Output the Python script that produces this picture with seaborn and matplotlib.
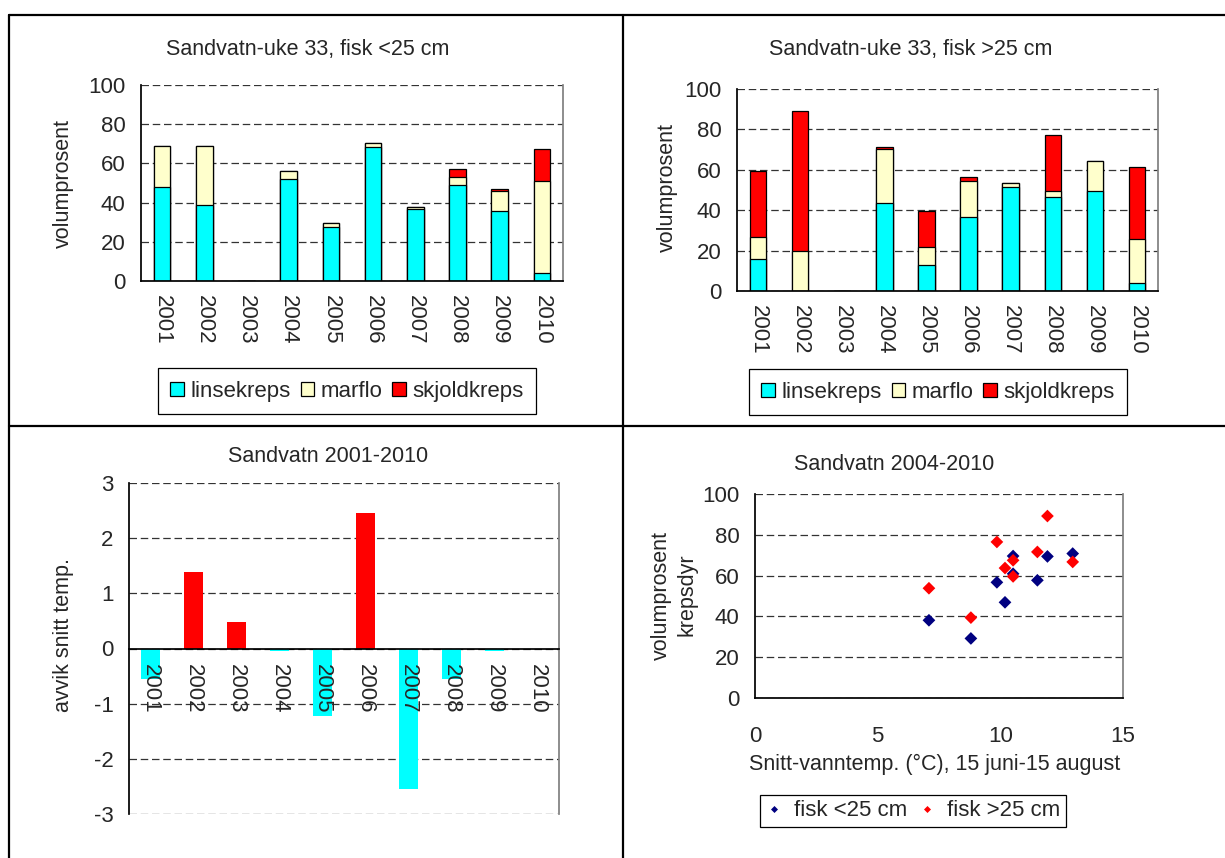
import numpy as np
import matplotlib
matplotlib.use("Agg")
import matplotlib.pyplot as plt
from matplotlib.lines import Line2D
import seaborn as sns
import pandas as pd

W, H = 1225, 858

YEARS = [str(y) for y in range(2001, 2011)]

# fisk <25 cm, volumprosent
small_linse = [48, 39, 0, 52, 27.4, 68.2, 36.6, 48.8, 35.5, 4.1]
small_marflo = [21, 30, 0, 4, 2.2, 2.4, 1.0, 4.1, 10.2, 46.8]
small_skjold = [0, 0, 0, 0, 0, 0, 0.3, 4.2, 1.2, 16.3]

# fisk >25 cm, volumprosent
large_linse = [15.7, 0, 0, 43.4, 12.7, 36.5, 51.3, 46.4, 49.3, 3.8]
large_marflo = [10.9, 19.6, 0, 26.7, 8.9, 17.8, 2.0, 2.9, 15.1, 21.8]
large_skjold = [33.0, 69.5, 0, 1.4, 17.8, 2.1, 0, 27.8, 0, 35.8]

# avvik snitt temp.
temp_dev = [-0.55, 1.38, 0.48, -0.04, -1.23, 2.46, -2.54, -0.55, -0.04, 0]

# scatter: snitt-vanntemp vs volumprosent krepsdyr
small_temp = [7.09, 8.80, 9.86, 10.19, 10.52, 10.52, 11.51, 11.92, 12.95]
small_vol = [38.1, 29.2, 56.7, 46.9, 69.6, 60.9, 57.7, 69.4, 70.8]
large_temp = [7.09, 8.80, 9.86, 10.19, 10.52, 10.52, 11.51, 11.92, 12.95]
large_vol = [53.8, 39.4, 76.5, 63.7, 67.5, 59.6, 71.6, 89.2, 66.7]

CYAN = "#00FFFF"
CREAM = "#FFFFCC"
RED = "#FF0000"
NAVY = "#000080"
GRID = dict(linestyle=(0, (6, 3)), color="#333333", linewidth=0.9)
FS = 16      # ticks, legends
FS_T = 15.5  # titles, axis labels


def rect(x0, y0, x1, y1):
    # pixel box -> figure fraction [left, bottom, width, height]
    return [x0 / W, 1 - y1 / H, (x1 - x0) / W, (y1 - y0) / H]


def fpos(x, y):
    return (x / W, 1 - y / H)


def style_axes(ax):
    ax.set_xlabel("")
    ax.set_ylabel("")
    ax.spines["top"].set_visible(False)
    ax.spines["right"].set_color("#808080")
    ax.spines["left"].set_color("black")
    ax.spines["bottom"].set_color("black")
    ax.yaxis.grid(True, **GRID)
    ax.xaxis.grid(False)
    ax.set_axisbelow(True)
    ax.tick_params(axis="y", direction="out", length=5, color="black",
                   labelsize=FS, pad=6)


def category_ticks(ax, pad=10):
    ax.set_xlim(-0.5, 9.5)
    ax.set_xticks(range(10))
    ax.set_xticklabels(YEARS, rotation=270)
    ax.set_xticks(np.arange(-0.5, 10, 1), minor=True)
    ax.tick_params(axis="x", which="major", length=0, labelsize=FS, pad=pad)
    ax.tick_params(axis="x", which="minor", length=5, direction="out",
                   color="black")


def stacked(ax, linse, marflo, skjold):
    df = pd.DataFrame({"year": YEARS, "linse": linse,
                       "marflo": marflo, "skjold": skjold})
    df["mid"] = df["linse"] + df["marflo"]
    df["top"] = df["mid"] + df["skjold"]
    for col, c in [("top", RED), ("mid", CREAM), ("linse", CYAN)]:
        sns.barplot(data=df, x="year", y=col, color=c, width=0.39,
                    edgecolor="black", linewidth=0.9, saturation=1, ax=ax)
    style_axes(ax)
    ax.set_ylim(0, 100)
    ax.set_yticks(range(0, 101, 20))
    category_ticks(ax)


sns.set_theme(style="white")
plt.rcParams["font.family"] = ["Liberation Sans", "DejaVu Sans"]
plt.rcParams["axes.unicode_minus"] = False

fig = plt.figure(figsize=(W / 100, H / 100), dpi=100)

# frame lines of the 2x2 table
for xs, ys in [((9, W), (15, 15)), ((9, 9), (15, H)),
               ((623, 623), (15, H)), ((9, W), (426, 426))]:
    fig.add_artist(Line2D([x / W for x in xs], [1 - y / H for y in ys],
                          color="black", linewidth=1.6))

# panel 1
ax1 = fig.add_axes(rect(141, 85, 563, 281))
stacked(ax1, small_linse, small_marflo, small_skjold)
fig.text(*fpos(308, 50), "Sandvatn-uke 33, fisk <25 cm", ha="center",
         va="center", fontsize=FS_T)
fig.text(*fpos(63, 184), "volumprosent", rotation=90, ha="center",
         va="center", fontsize=FS_T)

# panel 2
ax2 = fig.add_axes(rect(737, 89, 1158, 291))
stacked(ax2, large_linse, large_marflo, large_skjold)
fig.text(*fpos(911, 50), "Sandvatn-uke 33, fisk >25 cm", ha="center",
         va="center", fontsize=FS_T)
fig.text(*fpos(667, 188), "volumprosent", rotation=90, ha="center",
         va="center", fontsize=FS_T)

# legends for the bar panels
names = ["linsekreps", "marflo", "skjoldkreps"]
handles = [plt.Rectangle((0, 0), 1, 1, facecolor=c, edgecolor="black",
                         linewidth=0.9) for c in (CYAN, CREAM, RED)]
for center in [(347, 391), (938, 392)]:
    fig.legend(handles, names, loc="center", bbox_to_anchor=fpos(*center),
               ncol=3, fontsize=FS, frameon=True, fancybox=False,
               edgecolor="black", framealpha=1, handlelength=0.6,
               handleheight=0.6, handletextpad=0.3, columnspacing=0.45,
               borderpad=0.55).get_frame().set_linewidth(0.9)

# panel 3
ax3 = fig.add_axes(rect(129, 483, 559, 814))
df3 = pd.DataFrame({"year": YEARS, "avvik": temp_dev})
df3["sign"] = np.where(df3["avvik"] > 0, "pos", "neg")
sns.barplot(data=df3, x="year", y="avvik", hue="sign",
            palette={"pos": RED, "neg": CYAN}, dodge=False, width=0.42,
            saturation=1, linewidth=0, legend=False, ax=ax3)
style_axes(ax3)
ax3.set_ylim(-3, 3)
ax3.set_yticks(range(-3, 4))
ax3.spines["bottom"].set_position(("data", 0))
category_ticks(ax3, pad=11)
# year labels sit on top of the bars, grid stays behind
ax3.xaxis.set_zorder(3)
fig.text(*fpos(328, 457), "Sandvatn 2001-2010", ha="center", va="center",
         fontsize=FS_T)
fig.text(*fpos(64, 635), "avvik snitt temp.", rotation=90, ha="center",
         va="center", fontsize=FS_T)

# panel 4
ax4 = fig.add_axes(rect(755, 494, 1123, 698))
df4 = pd.concat([
    pd.DataFrame({"temp": small_temp, "vol": small_vol,
                  "gruppe": "fisk <25 cm"}),
    pd.DataFrame({"temp": large_temp, "vol": large_vol,
                  "gruppe": "fisk >25 cm"}),
])
sns.scatterplot(data=df4, x="temp", y="vol", hue="gruppe",
                palette={"fisk <25 cm": NAVY, "fisk >25 cm": RED},
                marker="D", s=42, linewidth=0, ax=ax4)
h4, l4 = ax4.get_legend_handles_labels()
ax4.get_legend().remove()
style_axes(ax4)
ax4.set_xlim(0, 15)
ax4.set_ylim(0, 100)
ax4.set_xticks([0, 5, 10, 15])
ax4.set_xticks(range(16), minor=True)
ax4.set_yticks(range(0, 101, 20))
ax4.set_yticks(range(0, 101, 10), minor=True)
ax4.tick_params(axis="x", which="both", direction="out", length=5,
                color="black", labelsize=FS, pad=15)
ax4.tick_params(axis="y", which="minor", direction="out", length=5,
                color="black")
fig.text(*fpos(894, 464), "Sandvatn 2004-2010", ha="center", va="center",
         fontsize=FS_T)
fig.text(*fpos(674, 595), "volumprosent\nkrepsdyr", rotation=90,
         ha="center", va="center", fontsize=FS_T, linespacing=1.3)
fig.text(*fpos(935, 764), "Snitt-vanntemp. (\u00b0C), 15 juni-15 august",
         ha="center", va="center", fontsize=FS_T)
leg4 = fig.legend(h4, l4, loc="center", bbox_to_anchor=fpos(913, 811),
                  ncol=2, fontsize=FS, frameon=True, fancybox=False,
                  edgecolor="black", framealpha=1, handlelength=0.8,
                  handletextpad=0.5, columnspacing=0.5, borderpad=0.25,
                  markerscale=0.55)
leg4.get_frame().set_linewidth(0.9)

fig.savefig("out.png", dpi=100)
